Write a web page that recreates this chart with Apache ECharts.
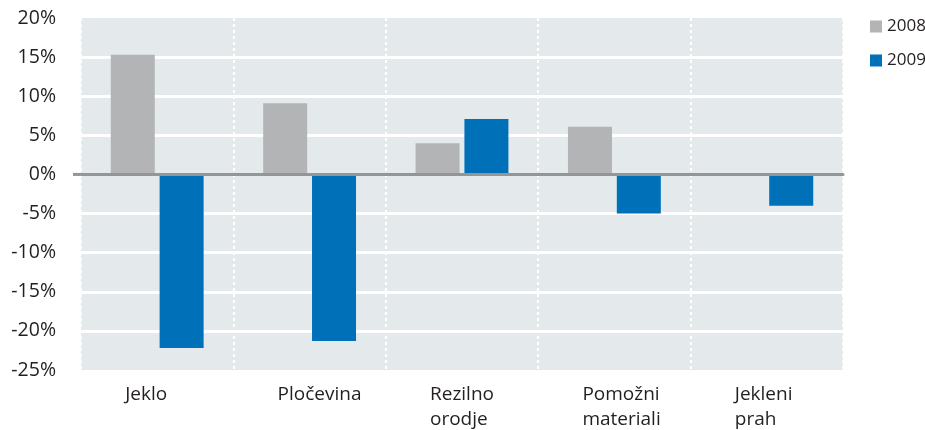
<!DOCTYPE html>
<html>
<head>
<meta charset="utf-8">
<script src="https://cdn.jsdelivr.net/npm/echarts@6/dist/echarts.min.js"></script>
<style>
  html, body { margin: 0; padding: 0; background: #fff; }
  #chart { width: 925px; height: 430px; }
</style>
</head>
<body>
<div id="chart"></div>
<script>
var categories = ['Jeklo', 'Pločevina', 'Rezilno\norodje', 'Pomožni\nmateriali', 'Jekleni\nprah']
var values2008 = [15.3, 9.1, 4.0, 6.1, null]
var values2009 = [-22.2, -21.3, 7.1, -5.0, -4.0]
var yTicks = [-25, -20, -15, -10, -5, 0, 5, 10, 15, 20]

var font = 'Open Sans'
var textColor = '#231f20'

var chart = echarts.init(document.getElementById('chart'))
var option = {
  animation: false,
  legend: {
    orient: 'vertical',
    left: 865,
    top: 13,
    itemWidth: 12,
    itemHeight: 12,
    itemGap: 17,
    icon: 'rect',
    textStyle: { fontFamily: font, fontSize: 17, color: textColor },
    data: ['2008', '2009']
  },
  grid: {
    left: 81,
    right: 82,
    top: 18,
    bottom: 60,
    outerBoundsMode: 'none',
    show: true,
    backgroundColor: '#e4e9ec',
    borderWidth: 0
  },
  xAxis: {
    type: 'category',
    data: categories,
    axisTick: { show: false },
    axisLine: { show: true, onZero: true, lineStyle: { color: '#959595', width: 3 } },
    axisLabel: {
      show: true,
      margin: 12,
      color: textColor,
      // lines of a two-line label start at the same x
      formatter: function (value) {
        return value.split('\n').map(function (s) { return '{t|' + s + '}' }).join('\n')
      },
      rich: {
        t: {
          width: 64,
          align: 'left',
          fontFamily: font,
          fontSize: 19,
          lineHeight: 25,
          color: textColor
        }
      }
    },
    splitLine: {
      show: true,
      lineStyle: { color: '#ffffff', width: 2, type: [3, 3] }
    },
    z: 5
  },
  yAxis: {
    type: 'value',
    min: yTicks[0],
    max: yTicks[yTicks.length - 1],
    interval: 5,
    axisLine: { show: false },
    axisTick: { show: false },
    axisLabel: {
      margin: 25,
      fontFamily: font,
      fontSize: 19.5,
      color: textColor,
      formatter: '{value}%'
    },
    splitLine: {
      show: true,
      showMinLine: false,
      showMaxLine: false,
      lineStyle: { color: '#ffffff', width: 3 }
    }
  },
  series: [
    {
      name: '2008',
      type: 'bar',
      barWidth: 44,
      barGap: '11%',
      itemStyle: { color: '#b3b4b6' },
      data: values2008
    },
    {
      name: '2009',
      type: 'bar',
      barWidth: 44,
      itemStyle: { color: '#0070b8' },
      data: values2009
    }
  ]
}
chart.setOption(option)

// the zero line sticks out a little to the left of the plot
var p0 = chart.convertToPixel({ gridIndex: 0 }, [0, 0])
var gridRect = chart.getModel().getComponent('grid').coordinateSystem.getRect()
chart.setOption({
  graphic: [{
    type: 'line',
    shape: { x1: gridRect.x - 8, y1: p0[1], x2: gridRect.x + 1, y2: p0[1] },
    style: { stroke: '#959595', lineWidth: 3 }
  }]
})
</script>
</body>
</html>
